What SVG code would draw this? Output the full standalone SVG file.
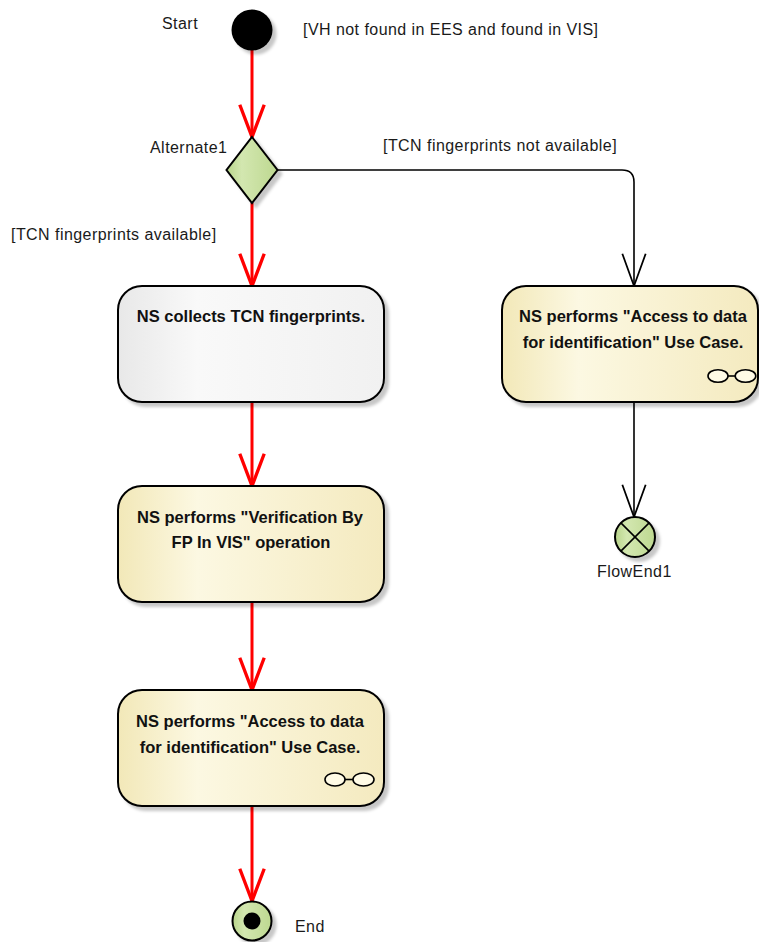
<svg xmlns="http://www.w3.org/2000/svg" width="759" height="942" viewBox="0 0 759 942">
  <style>
    .lbl { font-family: "Liberation Sans", Arial, sans-serif; font-size: 16px; letter-spacing: 0.45px; fill: #1a1a1a; }
    .act { font-family: "Liberation Sans", Arial, sans-serif; font-size: 16.5px; font-weight: bold; fill: #111; text-anchor: middle; }
    .box { stroke: #000; stroke-width: 2; filter: url(#shadow); }
    .flow-red { fill: none; stroke: #ff0000; stroke-width: 3; marker-end: url(#arrRed); }
    .flow-blk { fill: none; stroke: #000; stroke-width: 1.6; marker-end: url(#arrBlk); }
    .uc { fill: #fffbe6; stroke: #000; stroke-width: 1.6; }
  </style>
  <defs>
    <linearGradient id="gYellow" x1="0" y1="0" x2="1" y2="0">
      <stop offset="0" stop-color="#f2e8b8"/>
      <stop offset="0.3" stop-color="#fcf8e2"/>
      <stop offset="1" stop-color="#f4eabf"/>
    </linearGradient>
    <linearGradient id="gGray" x1="0" y1="0" x2="1" y2="0">
      <stop offset="0" stop-color="#e8e8e8"/>
      <stop offset="0.3" stop-color="#f9f9f9"/>
      <stop offset="1" stop-color="#f1f1f1"/>
    </linearGradient>
    <linearGradient id="gGreen" x1="0" y1="0" x2="1" y2="0">
      <stop offset="0" stop-color="#b8d48a"/>
      <stop offset="0.3" stop-color="#d3e7b0"/>
      <stop offset="1" stop-color="#bdd890"/>
    </linearGradient>
    <filter id="shadow" x="-10%" y="-10%" width="130%" height="130%">
      <feDropShadow dx="4" dy="4" stdDeviation="1.5" flood-color="#000" flood-opacity="0.22"/>
    </filter>
    <marker id="arrRed" markerUnits="userSpaceOnUse" markerWidth="40" markerHeight="40" viewBox="-32 -16 36 32" refX="0" refY="0" orient="auto">
      <path d="M-29,-11 L0,0 L-29,11" fill="none" stroke="#ff0000" stroke-width="3"/>
    </marker>
    <marker id="arrBlk" markerUnits="userSpaceOnUse" markerWidth="40" markerHeight="40" viewBox="-32 -16 36 32" refX="0" refY="0" orient="auto">
      <path d="M-29,-10.5 L0,0 L-29,10.5" fill="none" stroke="#000" stroke-width="1.6"/>
    </marker>
  </defs>

  <!-- connectors -->
  <g id="connectors">
    <path class="flow-red" d="M252,50 L252,137"/>
    <path class="flow-red" d="M252,203 L252,286"/>
    <path class="flow-red" d="M252,402 L252,486"/>
    <path class="flow-red" d="M252,602 L252,690"/>
    <path class="flow-red" d="M252,806 L252,901"/>
    <path class="flow-blk" d="M277,170 L622,170 Q634,170 634,182 L634,286"/>
    <path class="flow-blk" d="M634,402 L634,517"/>
    <text class="lbl" x="303" y="35">[VH not found in EES and found in VIS]</text>
    <text class="lbl" x="383" y="151">[TCN fingerprints not available]</text>
    <text class="lbl" x="11" y="240">[TCN fingerprints available]</text>
  </g>

  <!-- initial node -->
  <g id="start">
    <circle cx="252" cy="30" r="20.5" fill="#000" filter="url(#shadow)"/>
    <text class="lbl" x="162" y="29">Start</text>
  </g>

  <!-- decision -->
  <g id="alternate1">
    <path class="box" d="M252,137 L277.5,170 L252,203 L226.5,170 Z" fill="url(#gGreen)" stroke-width="1.6"/>
    <text class="lbl" x="150" y="153">Alternate1</text>
  </g>

  <g id="collect">
    <rect class="box" x="118" y="286" width="266" height="116" rx="24" fill="url(#gGray)"/>
    <text class="act" x="251" y="322">NS collects TCN fingerprints.</text>
  </g>

  <g id="verify">
    <rect class="box" x="118" y="486" width="266" height="116" rx="24" fill="url(#gYellow)"/>
    <text class="act" x="250" y="523">NS performs "Verification By</text>
    <text class="act" x="251" y="548">FP In VIS" operation</text>
  </g>

  <g id="access-left">
    <rect class="box" x="118" y="690" width="266" height="116" rx="24" fill="url(#gYellow)"/>
    <text class="act" x="250" y="727">NS performs "Access to data</text>
    <text class="act" x="250" y="753">for identification" Use Case.</text>
    <g>
      <line x1="345" y1="779.5" x2="353" y2="779.5" stroke="#000" stroke-width="1.6"/>
      <ellipse class="uc" cx="335" cy="779.5" rx="10" ry="6.5"/>
      <ellipse class="uc" cx="363.5" cy="779.5" rx="10.5" ry="6.5"/>
    </g>
  </g>

  <g id="access-right">
    <rect class="box" x="502" y="286" width="256" height="116" rx="24" fill="url(#gYellow)"/>
    <text class="act" x="633" y="322">NS performs "Access to data</text>
    <text class="act" x="633" y="348">for identification" Use Case.</text>
    <g>
      <line x1="728" y1="376" x2="735" y2="376" stroke="#000" stroke-width="1.6"/>
      <ellipse class="uc" cx="718" cy="376" rx="10" ry="6.3"/>
      <ellipse class="uc" cx="745.5" cy="376" rx="10.3" ry="6.3"/>
    </g>
  </g>

  <g id="flowend1">
    <circle class="box" cx="635" cy="537" r="20" fill="url(#gGreen)" stroke-width="1.6"/>
    <line x1="620.9" y1="522.9" x2="649.1" y2="551.1" stroke="#000" stroke-width="1.6"/>
    <line x1="649.1" y1="522.9" x2="620.9" y2="551.1" stroke="#000" stroke-width="1.6"/>
    <text class="lbl" x="597" y="577">FlowEnd1</text>
  </g>

  <g id="end">
    <circle class="box" cx="252" cy="921" r="19.5" fill="url(#gGreen)" stroke-width="1.6"/>
    <circle cx="252" cy="921" r="8.5" fill="#000"/>
    <text class="lbl" x="295" y="932">End</text>
  </g>
</svg>
